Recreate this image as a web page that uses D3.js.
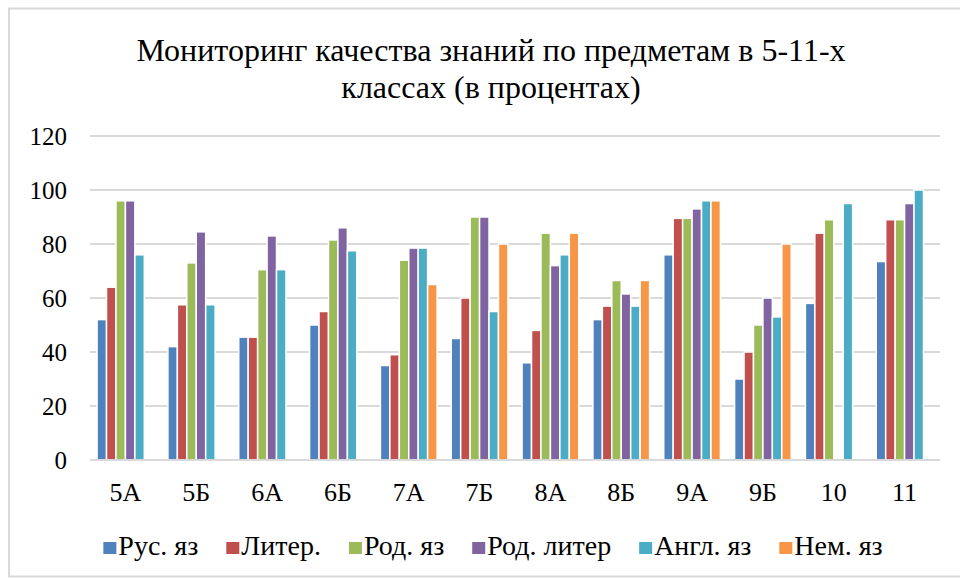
<!DOCTYPE html>
<html>
<head>
<meta charset="utf-8">
<script src="https://cdn.jsdelivr.net/npm/d3@7"></script>
<style>
  body { margin: 0; background: #fff; }
</style>
</head>
<body>
<div id="chart"></div>
<script>
// classes on the x axis
var classes = ["5А", "5Б", "6А", "6Б", "7А", "7Б", "8А", "8Б", "9А", "9Б", "10", "11"]

// subjects (series names)
var subjects = ["Рус. яз", "Литер.", "Род. яз", "Род. литер", "Англ. яз", "Нем. яз"]

// percentages per subject, one value per class (null = no bar)
var rusYaz    = [52, 42, 45.5, 50, 35, 45, 36, 52, 76, 30, 58, 73.5]
var liter     = [64, 57.5, 45.5, 55, 39, 60, 48, 57, 89.5, 40, 84, 89]
var rodYaz    = [96, 73, 70.5, 81.5, 74, 90, 84, 66.5, 89.5, 50, 89, 89]
var rodLiter  = [96, 84.5, 83, 86, 78.5, 90, 72, 61.5, 93, 60, null, 95]
var anglYaz   = [76, 57.5, 70.5, 77.5, 78.5, 55, 76, 57, 96, 53, 95, 100]
var nemYaz    = [null, null, null, null, 65, 80, 84, 66.5, 96, 80, null, null]

var yTicks = [0, 20, 40, 60, 80, 100, 120]

var series = [rusYaz, liter, rodYaz, rodLiter, anglYaz, nemYaz]
var colors = ["#4F81BD", "#C0504D", "#9BBB59", "#8064A2", "#4BACC6", "#F79646"]

var font = "Liberation Serif"

var width = 960,
  height = 579

var svg = d3.select("#chart")
  .append("svg")
  .attr("width", width)
  .attr("height", height)

// chart border
svg.append("rect")
  .attr("x", 9)
  .attr("y", 8.5)
  .attr("width", 960)
  .attr("height", 568)
  .attr("fill", "#fff")
  .attr("stroke", "#d9d9d9")
  .attr("stroke-width", 2)

// title, two lines
var title = svg.append("text")
  .attr("text-anchor", "middle")
  .attr("font-family", font)
  .attr("font-size", 32)
title.append("tspan").attr("x", 491).attr("y", 61).text("Мониторинг качества знаний по предметам в 5-11-х")
title.append("tspan").attr("x", 491).attr("y", 98).text("классах (в процентах)")

// scales
var x0 = d3.scaleBand()
  .domain(classes)
  .range([90, 940])
  .paddingInner(0.2)
  .paddingOuter(0.1)

var x1 = d3.scaleBand()
  .domain(d3.range(subjects.length))
  .range([0, x0.bandwidth()])

var y = d3.scaleLinear()
  .domain([0, 120])
  .range([460, 136])

// horizontal gridlines
svg.append("g")
  .selectAll("line")
  .data(yTicks)
  .enter().append("line")
  .attr("x1", 90)
  .attr("x2", 940)
  .attr("y1", function(d) { return y(d) })
  .attr("y2", function(d) { return y(d) })
  .attr("stroke", "#d9d9d9")
  .attr("stroke-width", 2)

// y tick labels
svg.append("g")
  .selectAll("text")
  .data(yTicks)
  .enter().append("text")
  .attr("x", 67)
  .attr("y", function(d) { return y(d) })
  .attr("dy", "0.35em")
  .attr("text-anchor", "end")
  .attr("font-family", font)
  .attr("font-size", 25)
  .text(function(d) { return d })

// bars, one group per class
var groups = svg.append("g")
  .selectAll("g")
  .data(classes)
  .enter().append("g")
  .attr("transform", function(d) { return "translate(" + x0(d) + ",0)" })

groups.selectAll("rect")
  .data(function(d, i) {
    return series.map(function(s, k) { return { k: k, v: s[i] } })
      .filter(function(e) { return e.v != null })
  })
  .enter().append("rect")
  .attr("x", function(d) { return x1(d.k) })
  .attr("width", x1.bandwidth())
  .attr("y", function(d) { return y(d.v) })
  .attr("height", function(d) { return y(0) - y(d.v) })
  .attr("fill", function(d) { return colors[d.k] })
  .attr("stroke", "#fff")
  .attr("stroke-width", 1.5)

// x axis line
svg.append("line")
  .attr("x1", 90)
  .attr("x2", 940)
  .attr("y1", y(0))
  .attr("y2", y(0))
  .attr("stroke", "#d9d9d9")
  .attr("stroke-width", 2)

// x labels
svg.append("g")
  .selectAll("text")
  .data(classes)
  .enter().append("text")
  .attr("x", function(d) { return x0(d) + x0.bandwidth() / 2 })
  .attr("y", 501)
  .attr("text-anchor", "middle")
  .attr("font-family", font)
  .attr("font-size", 26)
  .text(function(d) { return d })

// legend, laid out from measured text widths and centered
var legend = svg.append("g")
var items = legend.selectAll("g")
  .data(subjects)
  .enter().append("g")

items.append("rect")
  .attr("width", 13)
  .attr("height", 12)
  .attr("y", -13)
  .attr("fill", function(d, i) { return colors[i] })

items.append("text")
  .attr("x", 15)
  .attr("font-family", font)
  .attr("font-size", 28)
  .text(function(d) { return d })

var pos = 0
items.each(function() {
  var w = 15 + d3.select(this).select("text").node().getComputedTextLength()
  d3.select(this).attr("transform", "translate(" + pos + ",0)")
  pos += w + 28
})
var total = pos - 28
legend.attr("transform", "translate(" + (493 - total / 2) + ",555)")
</script>
</body>
</html>
